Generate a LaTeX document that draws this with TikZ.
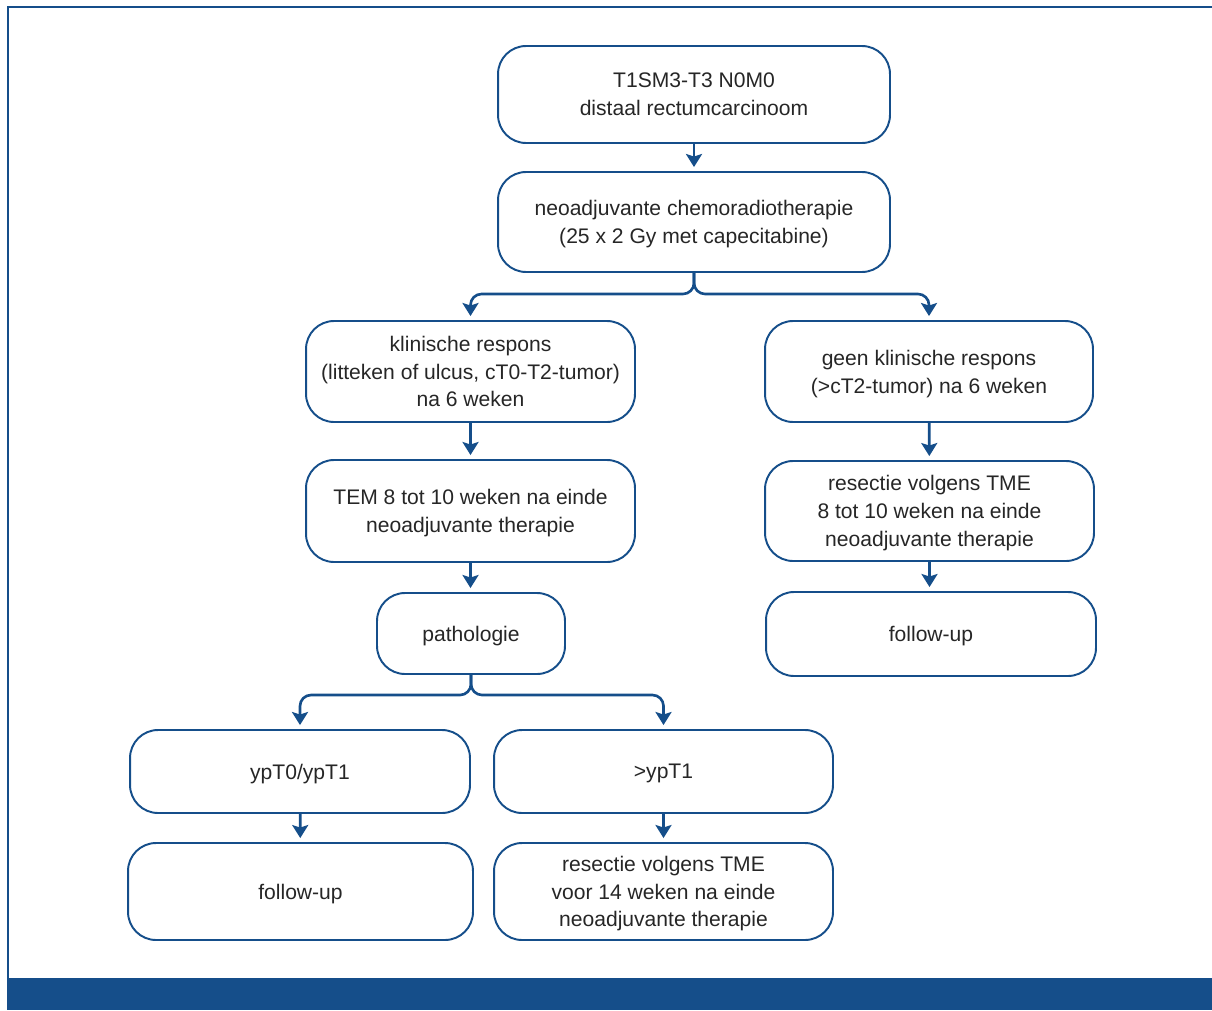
\documentclass[tikz,border=0pt]{standalone}
\usepackage{fontspec}
\setmainfont{Liberation Sans}
\usetikzlibrary{arrows.meta}
\definecolor{kaderblauw}{RGB}{21,78,138}

\begin{document}
\begin{tikzpicture}[x=0.02cm, y=-0.02cm,
    blok/.style={draw=kaderblauw, line width=1.1pt, rounded corners=0.56cm,
        align=center, inner sep=0pt, text=black!85, text depth=0pt,
        font=\fontsize{12}{15.8}\selectfont},
    pijl/.style={draw=kaderblauw, line width=1.5pt,
        -{Stealth[length=0.26cm, width=0.32cm, inset=0.05cm]}, shorten >=0.08cm},
    splits/.style={pijl, rounded corners=0.22cm}]
    \useasboundingbox (0,0) rectangle (1212,1010);

    % Kader en balk onderaan
    \fill[kaderblauw] (7,978) rectangle (1212,1010);
    \draw[kaderblauw, line width=1.7pt] (8,978) -- (8,7) -- (1212,7);

    % Blokken
    \node[blok, minimum width=7.84cm, minimum height=1.94cm] (tumor) at (694,94.5)
        {T1SM3-T3 N0M0\\distaal rectumcarcinoom};
    \node[blok, minimum width=7.84cm, minimum height=2cm] (chemo) at (694,222)
        {neoadjuvante chemoradiotherapie\\(25 x 2 Gy met capecitabine)};
    \node[blok, minimum width=6.58cm, minimum height=2.02cm] (respons) at (470.5,371.5)
        {klinische respons\\(litteken of ulcus, cT0-T2-tumor)\\na 6 weken};
    \node[blok, minimum width=6.56cm, minimum height=2.02cm] (geenrespons) at (929,371.5)
        {geen klinische respons\\(>cT2-tumor) na 6 weken};
    \node[blok, minimum width=6.58cm, minimum height=2.04cm] (tem) at (470.5,511)
        {TEM 8 tot 10 weken na einde\\neoadjuvante therapie};
    \node[blok, minimum width=6.58cm, minimum height=2cm] (resectie) at (929.5,511)
        {resectie volgens TME\\8 tot 10 weken na einde\\neoadjuvante therapie};
    \node[blok, minimum width=3.76cm, minimum height=1.62cm] (pathologie) at (471,633.5)
        {pathologie};
    \node[blok, minimum width=6.6cm, minimum height=1.68cm] (followup) at (931,634)
        {follow-up};
    \node[blok, minimum width=6.8cm, minimum height=1.66cm] (ypnul) at (300,771.5)
        {ypT0/ypT1};
    \node[blok, minimum width=6.78cm, minimum height=1.66cm] (ypmeer) at (663.5,771.5)
        {>ypT1};
    \node[blok, minimum width=6.9cm, minimum height=1.94cm] (followuplinks) at (300.5,891.5)
        {follow-up};
    \node[blok, minimum width=6.78cm, minimum height=1.94cm] (resectielaat) at (663.5,891.5)
        {resectie volgens TME\\voor 14 weken na einde\\neoadjuvante therapie};

    % Pijlen
    \draw[pijl] (tumor) -- (chemo);
    \draw[splits] (chemo.south) |- (respons.north |- 0,294) -- (respons.north);
    \draw[splits] (chemo.south) |- (geenrespons.north |- 0,294) -- (geenrespons.north);
    \draw[pijl] (respons) -- (tem);
    \draw[pijl] (tem.south) -- (pathologie.north -| tem.south);
    \draw[pijl] (geenrespons) -- (resectie);
    \draw[pijl] (resectie.south) -- (followup.north -| resectie.south);
    \draw[splits] (pathologie.south) |- (ypnul.north |- 0,695) -- (ypnul.north);
    \draw[splits] (pathologie.south) |- (ypmeer.north |- 0,695) -- (ypmeer.north);
    \draw[pijl] (ypnul) -- (followuplinks);
    \draw[pijl] (ypmeer) -- (resectielaat);

\end{tikzpicture}
\end{document}
